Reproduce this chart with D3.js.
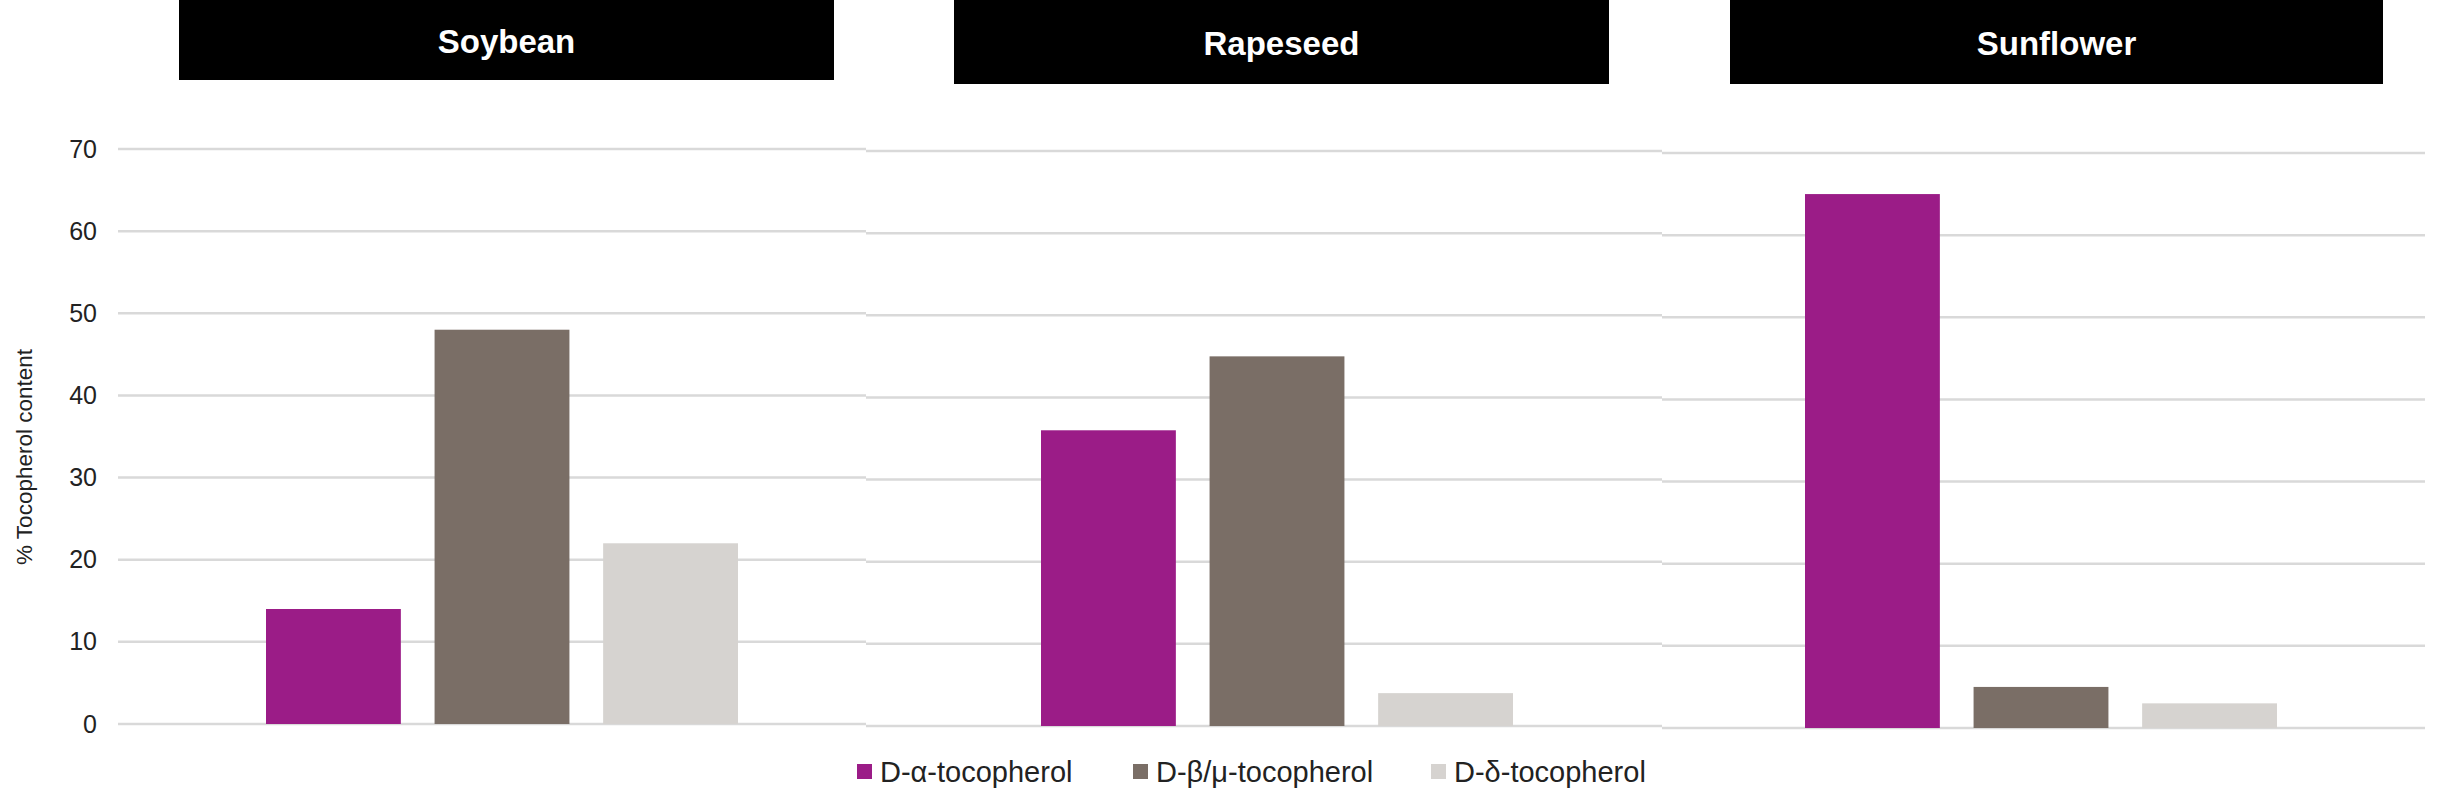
<!DOCTYPE html>
<html><head><meta charset="utf-8">
<script src="https://cdn.jsdelivr.net/npm/d3@7"></script>
<style>body{margin:0;background:#fff;} svg{display:block;font-family:Arial,"Liberation Sans",sans-serif;}</style>
</head><body><svg id="c" width="2439" height="788"></svg>
<script>
// ---- data ----
const categories = ["Soybean", "Rapeseed", "Sunflower"];
const seriesNames = ["D-α-tocopherol", "D-β/μ-tocopherol", "D-δ-tocopherol"];
const alphaValues = [14, 36, 65];
const betaMuValues = [48, 45, 5];
const deltaValues = [22, 4, 3];
const yTicks = [0, 10, 20, 30, 40, 50, 60, 70];
const yTitle = "% Tocopherol content";

// ---- style / layout ----
const colors = ["#9B1C87", "#7A6E66", "#D6D3D0"];
const seriesValues = [alphaValues, betaMuValues, deltaValues];
const panels = [
  {x0: 118, x1: 866, cx: 502, dy: 0, boxX: 179, boxW: 655, boxH: 80},
  {x0: 866, x1: 1662, cx: 1277, dy: 2, boxX: 954, boxW: 655, boxH: 84},
  {x0: 1662, x1: 2425, cx: 2041, dy: 4, boxX: 1730, boxW: 653, boxH: 84}
];
const groupHalf = 236;

const svg = d3.select("#c");
const y = d3.scaleLinear().domain([0, 70]).range([724, 149]);
const color = d3.scaleOrdinal().domain(seriesNames).range(colors);

categories.forEach((cat, i) => {
  const p = panels[i];
  const g = svg.append("g").attr("transform", `translate(0,${p.dy})`);
  // gridlines
  g.selectAll("line.grid").data(yTicks).join("line")
    .attr("class", "grid")
    .attr("x1", p.x0).attr("x2", p.x1)
    .attr("y1", d => y(d)).attr("y2", d => y(d))
    .attr("stroke", "#d9d9d9").attr("stroke-width", 2.5);
  // bars
  const xi = d3.scaleBand().domain(seriesNames)
    .range([p.cx - groupHalf, p.cx + groupHalf]).paddingInner(0.2).paddingOuter(0);
  const rows = seriesNames.map((s, k) => ({s, v: seriesValues[k][i]}));
  g.selectAll("rect.bar").data(rows).join("rect")
    .attr("class", "bar")
    .attr("x", d => xi(d.s)).attr("width", xi.bandwidth())
    .attr("y", d => y(d.v)).attr("height", d => y(0) - y(d.v))
    .attr("fill", d => color(d.s));
  // header box
  svg.append("rect").attr("x", p.boxX).attr("y", 0)
    .attr("width", p.boxW).attr("height", p.boxH).attr("fill", "#000");
  svg.append("text").attr("x", p.boxX + p.boxW / 2).attr("y", p.boxH / 2 + 1)
    .attr("text-anchor", "middle").attr("dominant-baseline", "central")
    .attr("fill", "#fff").attr("font-weight", "bold").attr("font-size", 33)
    .text(cat);
});

// y axis labels
const yAxis = d3.axisLeft(y).tickValues(yTicks).tickSize(0).tickPadding(0);
const ax = svg.append("g").attr("transform", "translate(97,0)").call(yAxis);
ax.select(".domain").remove();
ax.selectAll("text").attr("font-size", 25).attr("fill", "#222")
  .attr("font-family", "Arial, 'Liberation Sans', sans-serif");

// y title
svg.append("text").attr("transform", "translate(24,457) rotate(-90)")
  .attr("text-anchor", "middle").attr("dominant-baseline", "central")
  .attr("font-size", 22.5).attr("fill", "#222").text(yTitle);

// legend
const legendX = [857, 1133, 1431];
const lg = svg.append("g");
seriesNames.forEach((s, k) => {
  lg.append("rect").attr("x", legendX[k]).attr("y", 764).attr("width", 15).attr("height", 15)
    .attr("fill", color(s));
  lg.append("text").attr("x", legendX[k] + 23).attr("y", 772)
    .attr("dominant-baseline", "central").attr("font-size", 29).attr("fill", "#222").text(s);
});
</script></body></html>
